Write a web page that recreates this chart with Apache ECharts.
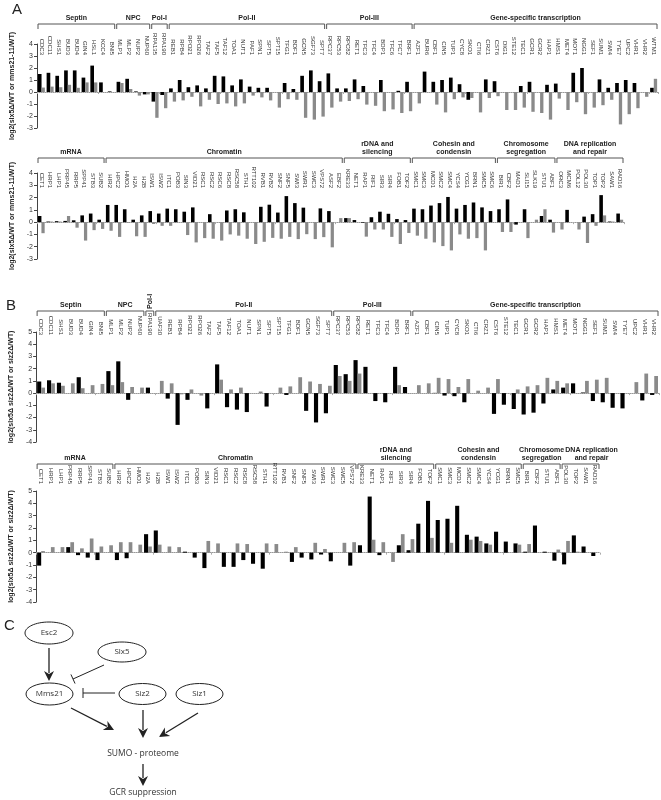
<!DOCTYPE html>
<html><head><meta charset="utf-8">
<script src="https://cdn.jsdelivr.net/npm/echarts@6/dist/echarts.min.js"></script>
<style>html,body{margin:0;padding:0;background:#fff}#c{width:661px;height:800px}</style>
</head><body><div id="c"></div>
<script>
// ---------- Panel A (top): slx5Δ/WT (black) and mms21-11/WT (gray)
const catsA1 = ['CDC3','CDC11','SHS1','BUD3','BUD4','GIN4','HSL1','KCC4','BNI5',
 'MLP1','MLP2','NUP2','NUP60','RPA135','RPA190',
 'REB1','RPB4','RPO21','RPO26','TAF2','TAF5','TAF12','TOA1','NUT1','PAF1','SPN1','SPT5','SPT15','TFG1','BDF1','GCN5','SGF73','SPT7',
 'RPC37','RPC53','RPC82','RET1','TFC3','TFC4','BDP1','TFC6','TFC7','BRF1',
 'AZF1','BUR6','CBF1','CIN5','TUP1','CYC8','SKO1','CTI6','CRZ1','CST6','DIG1','STE12','TEC1','GCR1','GCR2','HAP1','HMS1','MET4','MOT1','NGG1','SEF1','SUM1','SWI4','TYE7','UPC2','VHR1','VHR2','WTM1'];
const slx5A1 = [1.5,1.6,1.35,1.8,1.8,1.2,2.2,0.8,0.05,
 0.85,1.1,0.05,-0.2,-0.8,-0.25,
 0.3,1.0,0.4,0.55,0.3,1.35,1.3,0.55,1.05,0.45,0.35,0.35,0,0.75,0.25,1.35,1.8,0.9,
 1.55,0.3,0.3,1.05,0.5,0,1.0,0,0.1,0.85,
 0,1.7,0.85,1.0,1.2,0.65,-0.65,0,1.05,0.9,0,0,0.5,0.85,0,0.6,0.7,0,1.6,2.0,0,1.05,0.35,0.75,1.0,0.75,0,0.35];
const mms21A1 = [0.37,0.45,0.4,0.6,0.35,0.8,0.8,0,0,
 0.75,0.25,-0.3,-0.2,-2.15,-1.35,
 -0.8,-0.7,-0.4,-1.2,-0.65,-1.0,-0.95,-1.2,-0.95,-0.3,-0.45,-0.7,-1.3,-0.6,-0.65,-2.15,-2.3,-2.05,
 -1.3,-0.8,-0.75,-0.6,-1.05,-1.15,-1.6,-1.45,-1.75,-1.6,
 -0.95,0,-1.05,-1.7,-0.6,-0.45,-0.5,-1.7,-0.5,-0.35,-1.5,-1.5,-1.3,-1.65,-1.75,-2.3,-0.55,-1.5,-0.85,-1.85,-1.3,-1.1,-0.65,-2.7,-1.85,-1.35,-0.4,1.1];
const groupsA1 = [['Septin',9],['NPC',4],['Pol-I',2],['Pol-II',18],['Pol-III',10],['Gene-specific transcription',28]];

// ---------- Panel A (bottom)
const catsA2 = ['CET1','HRP1','LHP1','PRP45','RRP5','SPP41','STB3','SUB2',
 'HIR2','HPC2','HMO1','H2A','H2B','ISW1','ISW2','ITC1','POB3','SIN3','VID21','RSC1','RSC2','RSC6','RSC8','RSC58','STH1','RTT102','RVB1','RVB2','SNF2','SNF5','SWI3','SWR1','SWC3','VPS72','ASF2','EBF2',
 'KRE33','NET1','RAP1','RIF1','SIR3','SIR4','FOB1','TOF2',
 'SMC1','SMC3','MCD1','SMC2','SMC4','YCS4','YCG1','BRN1','SMC5','SMC6',
 'BIR1','CBF2','MAD1','SLI15','SLK19','STU1','ABF1',
 'ORC3','MCM6','POL12','POL30','TOP1','TOP2','SAW1','RAD16'];
const slx5A2 = [0.5,0.05,0.08,0.1,0.15,0.55,0.7,0.2,
 1.4,1.4,1.05,0.2,0.55,0.9,0.7,1.1,1.05,0.85,1.2,0,0.65,0,0.95,1.05,0.8,0,1.25,1.42,0.78,2.12,1.55,1.18,0,1.12,0.9,0,
 0.33,0.17,-0.05,0.4,0.85,0.68,0.25,0.17,
 1.1,1.05,1.35,1.55,2.05,1.1,1.4,1.6,1.2,0.9,
 1.05,1.85,-0.2,1.05,0,0.5,0.2,
 0,1.0,0,0.45,0.65,2.2,0.05,0.7];
const mms21A2 = [-0.9,0.05,0.05,0.5,-0.45,-1.5,-0.65,-0.55,
 -0.7,-1.2,-0.05,-1.15,-1.2,-0.15,-0.3,-0.3,0,-1.05,-1.65,-1.3,-1.35,-1.5,-1.0,-1.1,-1.35,-1.78,-1.6,-1.28,-1.35,-1.2,-1.38,-0.98,-1.38,-1.22,-2.05,0.33,
 0.33,0,-1.18,-0.6,-0.6,-1.2,-1.78,-0.88,
 -1.1,-1.35,-1.65,-1.95,-2.3,-1.0,-1.35,-1.3,-2.3,0,
 -0.8,-0.8,0,-1.3,0.2,1.05,-0.85,
 -0.6,0,-0.6,-1.7,-0.3,0.55,0.05,0.2];
const groupsA2 = [['mRNA',8],['Chromatin',28],['rDNA and\nsilencing',8],['Cohesin and\ncondensin',10],['Chromosome\nsegregation',7],['DNA replication\nand repair',8]];

// ---------- Panel B (top): slx5Δ siz2Δ/WT (black) and siz2Δ/WT (gray)
const catsB1 = ['CDC3','CDC11','SHS1','BUD3','BUD4','GIN4','BNI5',
 'MLP1','MLP2','NUP2','NUP60','RPA190',
 'UAF30','REB1','RPB4','RPO21','RPO26','TAF2','TAF5','TAF12','TOA1','NUT1','SPN1','SPT5','SPT15','TFG1','BDF1','GCN5','SGF73','SPT7',
 'RPC37','RPC53','RPC82','RET1','TFC3','TFC4','BDP1','BRF1',
 'AZF1','CBF1','CIN5','TUP1','CYC8','SKO1','CTI6','CRZ1','CST6','STE12','TEC1','GCR1','GCR2','HAP1','HMS1','MET4','MOT1','NGG1','SEF1','SUM1','SWI4','TYE7','UPC2','VHR1','VHR2'];
const slx5siz2B1 = [0.95,1.05,0.85,0,1.3,0,0,
 1.8,2.6,-0.55,0,0.45,
 0,-0.45,-2.6,-0.55,0,-1.25,2.35,-1.15,-1.35,-1.55,0,-1.1,0,-0.15,0,-1.45,-2.4,-1.65,
 2.3,1.55,2.7,2.15,-0.65,-0.75,2.15,0.5,
 0,0,0.02,-0.2,-0.25,-0.75,0,0,-1.7,-0.95,-1.3,-1.75,-1.6,-0.85,0.3,0.45,0.8,0.05,-0.65,-0.75,-1.2,-1.25,0,-0.6,-0.15];
const siz2B1 = [0.45,0.8,0.6,0.8,0.4,0.65,0.75,
 0.65,0.9,0.5,0.45,0,
 1.0,0.8,-0.1,0.3,-0.2,0,1.1,0.3,0.45,0,0.13,0,0.45,0.55,1.3,0.95,0.75,0.6,
 1.4,1.0,1.6,0,0,0,0.65,0,
 0.65,0.8,1.25,1.15,0.5,1.15,0.2,0.45,1.15,0,0.3,0.55,0.65,1.25,1.0,0.8,0,1.0,1.1,1.25,0,0,0.9,1.6,1.4];
const groupsB1 = [['Septin',7],['NPC',4],['Pol-I',1],['Pol-II',18],['Pol-III',8],['Gene-specific transcription',25]];

// ---------- Panel B (bottom)
const catsB2 = ['CET1','HRP1','LHP1','PRP45','RRP5','SPP41','STB3','SUB2',
 'HIR2','HPC2','HMO1','H2A','H2B','ISW1','ISW2','ITC1','POB3','SIN3','VID21','RSC1','RSC2','RSC8','RSC58','STH1','RTT102','RVB1','SNF2','SNF5','SWI3','SWR1','SWC3','SWC5','VPS72',
 'KRE33','NET1','RAP1','RIF1','SIR3','SIR4','FOB1','TOF2',
 'SMC1','SMC3','MCD1','SMC2','SMC4','YCS4','YCG1','BRN1','SMC5',
 'BIR1','CBF2','STU1','ABF1',
 'POL30','TOP2','SAW1','RAD16'];
const slx5siz2B2 = [-1.05,0,0,0.45,-0.2,-0.4,-0.6,0,
 -0.6,-0.45,0,1.5,1.8,0,0,0.08,-0.4,-1.25,0,-1.15,-1.15,-0.6,-0.9,-1.3,0,0,-0.75,-0.4,-0.55,-0.15,-0.7,0,-1.05,
 0.6,4.55,-0.2,0,0.6,0.2,2.35,4.2,
 2.65,2.75,3.8,1.45,1.3,0.75,1.7,0.9,0.75,
 0.08,2.2,0.08,-0.65,
 -0.95,1.4,0.5,-0.27];
const siz2B2 = [0.13,0.45,0.45,0.85,0.35,1.15,0.5,0.6,
 0.85,0.85,0.65,0.5,0.65,0.5,0.45,0,0,0.95,0.75,0,0.75,0.7,0,0.75,0.7,0.08,0.45,0,0.8,0.3,0,0.8,0.85,
 0,1.05,0.85,-0.75,1.5,1.1,0,1.2,
 0,0.8,0,1.05,0.95,0.65,0,0,0.65,
 0.7,0,0,0.25,
 0.95,0.08,0,0];
const groupsB2 = [['mRNA',8],['Chromatin',25],['rDNA and\nsilencing',8],['Cohesin and\ncondensin',9],['Chromosome\nsegregation',4],['DNA replication\nand repair',4,11]];

const yTicksA = {min:-3, max:4};
const yTicksB = {min:-4, max:5};
const nameA = 'log2(slx5Δ/WT or mms21-11/WT)';
const nameB = 'log2(slx5Δ siz2Δ/WT or siz2Δ/WT)';

// ---------- layout
const panels = [
 {cats:catsA1, k:slx5A1, g:mms21A1, groups:groupsA1, grid:{left:37,right:3,top:44,height:84}, y:yTicksA, name:nameA, nameGap:20, lo:-12, by:24},
 {cats:catsA2, k:slx5A2, g:mms21A2, groups:groupsA2, grid:{left:37,right:37,top:173,height:86}, y:yTicksA, name:nameA, nameGap:20, lo:-16, by:158},
 {cats:catsB1, k:slx5siz2B1, g:siz2B1, groups:groupsB1, grid:{left:33,right:2,top:332,height:110}, y:yTicksB, name:nameB, nameGap:16, lo:-4, by:311},
 {cats:catsB2, k:slx5siz2B2, g:siz2B2, groups:groupsB2, grid:{left:33,right:61,top:491,height:111}, y:yTicksB, name:nameB, nameGap:16, lo:6, by:464}
];
const FONT = 'Liberation Sans, Arial, sans-serif';

const option = {animation:false, backgroundColor:'#fff', grid:[], xAxis:[], yAxis:[], series:[]};
panels.forEach((p,i)=>{
  option.grid.push(Object.assign({containLabel:false}, p.grid));
  option.xAxis.push({type:'category', gridIndex:i, data:p.cats, position:'top', offset:p.lo,
    axisLine:{show:false, onZero:false}, axisTick:{show:false},
    axisLabel:{rotate:90, interval:0, fontSize:6, margin:1, color:'#333', fontFamily:FONT}});
  option.xAxis.push({type:'category', gridIndex:i, data:p.cats, position:'bottom',
    axisLine:{show:true, onZero:true, lineStyle:{color:'#999', type:'dotted', width:1}},
    axisTick:{show:true, length:2, inside:false, lineStyle:{color:'#aaa'}}, axisLabel:{show:false}});
  option.yAxis.push({type:'value', gridIndex:i, min:p.y.min, max:p.y.max, interval:1,
    name:p.name, nameLocation:'middle', nameGap:p.nameGap,
    nameTextStyle:{fontSize:7, fontWeight:'bold', color:'#222', fontFamily:FONT},
    axisLine:{show:true, lineStyle:{color:'#444', width:1}},
    axisTick:{show:true, length:3, lineStyle:{color:'#444'}},
    axisLabel:{fontSize:7, color:'#333', margin:4, fontFamily:FONT},
    splitLine:{show:false}});
  option.series.push({type:'bar', xAxisIndex:2*i, yAxisIndex:i, data:p.k, barWidth:'42%', barGap:'0%', itemStyle:{color:'#000'}});
  option.series.push({type:'bar', xAxisIndex:2*i, yAxisIndex:i, data:p.g, barWidth:'38%', barGap:'0%', itemStyle:{color:'#8a8a8a'}});
});

const chart = echarts.init(document.getElementById('c'), null, {renderer:'canvas', width:661, height:800});
chart.setOption(option);

// ---------- group brackets (positions taken from the category axes)
const gfx = [];
const BR = '#555';
panels.forEach((p,i)=>{
  const px = idx => chart.convertToPixel({xAxisIndex:2*i}, idx);
  const bw = px(1) - px(0);
  let s = 0;
  p.groups.forEach(([name,n,dx])=>{
    const x0 = px(s) - bw/2 + 1, x1 = px(s+n-1) + bw/2 - 1;
    gfx.push({type:'polyline', silent:true, shape:{points:[[x0,p.by+5],[x0,p.by],[x1,p.by],[x1,p.by+5]]}, style:{stroke:BR, lineWidth:1, fill:null}});
    const cx = (x0+x1)/2 + (dx||0);
    if (n === 1) {
      gfx.push({type:'text', x:cx+3.5, y:p.by-2, rotation:Math.PI/2, style:{text:name, font:'bold 7px '+FONT, fill:'#222', textAlign:'left', textVerticalAlign:'bottom'}});
    } else {
      gfx.push({type:'text', x:cx, y:p.by-1.5, style:{text:name, font:'bold 7px '+FONT, fill:'#222', textAlign:'center', textVerticalAlign:'bottom', lineHeight:8.5}});
    }
    s += n;
  });
});
// panel letters
gfx.push({type:'text', x:12, y:2, style:{text:'A', font:'15px '+FONT, fill:'#222'}});
gfx.push({type:'text', x:6, y:298, style:{text:'B', font:'15px '+FONT, fill:'#222'}});
gfx.push({type:'text', x:4, y:618, style:{text:'C', font:'15px '+FONT, fill:'#222'}});

// ---------- panel C diagram
const DF = 'Open Sans, Liberation Sans, sans-serif';
const INK = '#222';
function ell(cx,cy,rx,ry,t){
  gfx.push({type:'ellipse', shape:{cx,cy,rx,ry}, style:{stroke:INK, lineWidth:1, fill:'#fff'}});
  gfx.push({type:'text', x:cx, y:cy, style:{text:t, font:'8px '+DF, fill:'#333', textAlign:'center', textVerticalAlign:'middle'}});
}
function arrow(x1,y1,x2,y2){
  const L=10,W=5,dx=x2-x1,dy=y2-y1,len=Math.hypot(dx,dy),ux=dx/len,uy=dy/len;
  const bx=x2-ux*L, by=y2-uy*L;
  gfx.push({type:'line', shape:{x1,y1,x2:bx+ux*2,y2:by+uy*2}, style:{stroke:INK, lineWidth:1.3}});
  gfx.push({type:'polygon', shape:{points:[[x2,y2],[bx-uy*W,by+ux*W],[bx+ux*3,by+uy*3],[bx+uy*W,by-ux*W]]}, style:{fill:INK}});
}
function tee(x1,y1,x2,y2){
  const dx=x2-x1,dy=y2-y1,len=Math.hypot(dx,dy),ux=dx/len,uy=dy/len,W=5;
  gfx.push({type:'line', shape:{x1,y1,x2,y2}, style:{stroke:INK, lineWidth:1}});
  gfx.push({type:'line', shape:{x1:x2-uy*W,y1:y2+ux*W,x2:x2+uy*W,y2:y2-ux*W}, style:{stroke:INK, lineWidth:1}});
}
ell(49,633,24,11,'Esc2');
ell(122,652,24,10,'Slx5');
ell(49.5,694,23.5,11,'Mms21');
ell(142.5,694,23.5,10.5,'Siz2');
ell(199.5,694,23.5,10.5,'Siz1');
arrow(49,648,49,681);
tee(104,665,73,679);
tee(115,693,83,693);
arrow(71,708,114,730);
arrow(143,710,143,738);
arrow(198,713,159,737);
gfx.push({type:'text', x:143, y:754, style:{text:'SUMO - proteome', font:'8.5px '+DF, fill:'#333', textAlign:'center', textVerticalAlign:'middle'}});
arrow(143,764,143,786);
gfx.push({type:'text', x:143, y:793, style:{text:'GCR suppression', font:'8.5px '+DF, fill:'#333', textAlign:'center', textVerticalAlign:'middle'}});

chart.setOption({graphic:{elements:gfx}});
</script></body></html>
